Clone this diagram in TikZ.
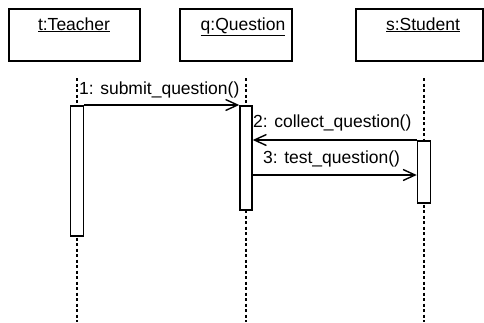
\documentclass[tikz,border=0pt]{standalone}
\usepackage{fontspec}
\setmainfont{Liberation Sans}
\usetikzlibrary{arrows.meta}
\begin{document}
\begin{tikzpicture}[x=1pt,y=-1pt,
  objbox/.style={draw,line width=1.5pt,minimum height=52pt,inner sep=0pt},
  objtxt/.style={inner sep=0pt,anchor=base,font=\fontsize{17.5pt}{20pt}\selectfont},
  actbox/.style={draw,line width=1.5pt,fill=white,minimum width=13pt,inner sep=0pt,anchor=north},
  life/.style={line width=1.8pt,dash pattern=on 3pt off 2.5pt},
  msg/.style={line width=1.4pt,-{Straight Barb[length=12pt,width=11pt,line width=1.4pt]}},
  msgtxt/.style={inner sep=0pt,anchor=base west,font=\fontsize{17.5pt}{20pt}\selectfont}]
\useasboundingbox (0,0) rectangle (484,322);
% object boxes
\node[objbox,minimum width=131pt] (tbox) at (74.5,35) {};
\node[objbox,minimum width=112pt] (qbox) at (236,35) {};
\node[objbox,minimum width=127pt] (sbox) at (419.5,35) {};
\node[objtxt] (tlab) at (74,30) {\underline{t:Teacher}};
\node[objtxt] (qlab) at (243,30) {\underline{q:Question}};
\node[objtxt] (slab) at (423,30) {\underline{s:Student}};
% lifeline tops / bottoms
\coordinate (ttop) at (77,78);
\coordinate (qtop) at (246,78);
\coordinate (stop) at (424,78);
\coordinate (tend) at (77,322);
\coordinate (qend) at (246,322);
\coordinate (send) at (424,322);
\draw[life] (ttop) -- (tend);
\draw[life] (qtop) -- (qend);
\draw[life] (stop) -- (send);
% activation boxes
\node[actbox,minimum height=130pt] (tact) at (77,105) {};
\node[actbox,minimum height=104pt,minimum width=12pt] (qact) at (246,105) {};
\node[actbox,minimum height=62pt] (sact) at (424,140) {};
% messages
\draw[msg] (tact.north east) -- (qact.north west);
\draw[msg] (sact.north west) -- (qact.east |- sact.north);
\coordinate (m3) at (0,175);
\draw[msg] (qact.east |- m3) -- (sact.west |- m3);
\node[msgtxt] (l1) at (79,94) {1: submit\_question()};
\node[msgtxt] (l2) at (253,127.5) {2: collect\_question()};
\node[msgtxt] (l3) at (263,163) {3: test\_question()};
\end{tikzpicture}
\end{document}
